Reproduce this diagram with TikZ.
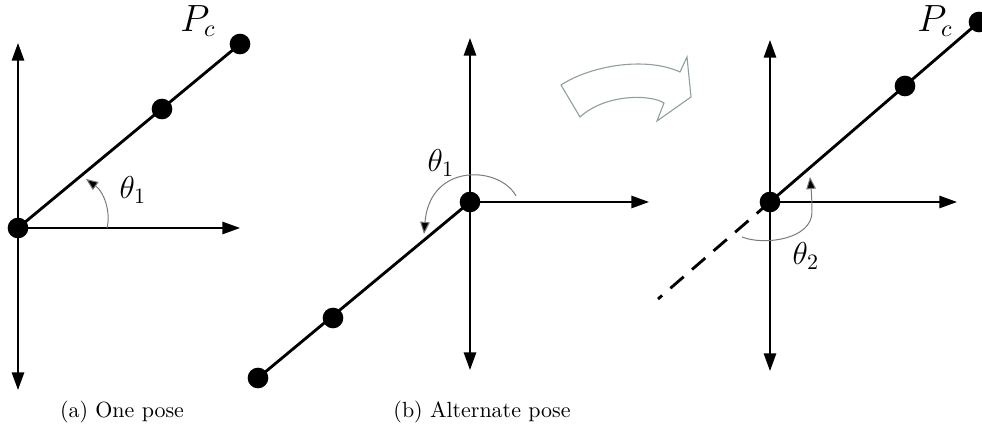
\documentclass[tikz,border=0pt]{standalone}
\usepackage{xcolor}
\usetikzlibrary{arrows.meta}
\definecolor{arcgray}{HTML}{7A7A7A}
\definecolor{turngreen}{HTML}{8FA09B}
\tikzset{
	axisline/.style={line width=0.8pt, {Triangle[length=8pt,width=5.6pt]}-{Triangle[length=8pt,width=5.6pt]}},
	axisray/.style={line width=0.8pt, -{Triangle[length=8pt,width=5.6pt]}},
	poseline/.style={line width=1.3pt},
	anglearc/.style={arcgray, line width=0.45pt, -{Triangle[length=5.5pt,width=4.4pt,fill=black]}},
	jointdot/.style={circle, fill=black, inner sep=0pt, minimum size=9.4pt},
	anglelabel/.style={font=\Large},
	pclabel/.style={font=\fontsize{16pt}{18pt}\selectfont},
}

\begin{document}
\begin{tikzpicture}[x=0.016cm,y=0.016cm]
	% Fixed white canvas, one unit is one pixel of the reference.
	\path[use as bounding box] (0,0) rectangle (982,434);
	\fill[white] (0,0) rectangle (982,434);

	% (a) One pose.
	\coordinate (aTop) at (18,391);
	\coordinate (aBot) at (18,44);
	\coordinate (aRight) at (240,206);
	\draw[axisline] (aBot) -- (aTop);
	\draw[axisray] (18,206) -- (aRight);
	\node[jointdot] (aOrigin) at (18,206) {};
	\node[jointdot] (aMid) at (162,325) {};
	\node[jointdot] (aEnd) at (240,390) {};
	\draw[poseline] (aOrigin.center) -- (aEnd.center);
	\node[pclabel] (aPc) at (198,413) {$P_c$};
	\draw[anglearc] (107,206) .. controls (111,222) and (104,242) .. (86,255);
	\node[anglelabel] (aTheta) at (133,244) {$\theta_1$};
	\node (aCaption) at (122,22) {(a) One pose};

	% (b) Alternate pose, left: the line turned to the lower left.
	\coordinate (bTop) at (470,396);
	\coordinate (bBot) at (470,64);
	\coordinate (bRight) at (649,232);
	\draw[axisline] (bBot) -- (bTop);
	\draw[axisray] (470,232) -- (bRight);
	\node[jointdot] (bOrigin) at (470,232) {};
	\node[jointdot] (bMid) at (333,116) {};
	\node[jointdot] (bEnd) at (258,56) {};
	\draw[poseline] (bOrigin.center) -- (bEnd.center);
	\draw[anglearc] (516,238) .. controls (500,268) and (430,272) .. (424,200);
	\node[anglelabel] (bTheta) at (441,271) {$\theta_1$};

	% Turn arrow between the two poses.
	\draw[turngreen, line width=0.5pt, fill=white, line join=miter]
		(561,349) .. controls (590,368) and (645,378) .. (680,362)
		-- (687,377) -- (691,337) -- (657,313) -- (664,331)
		.. controls (650,340) and (605,340) .. (580,317) -- cycle;

	% (b) Alternate pose, right: the same line read the other way round.
	\coordinate (cTop) at (770,394);
	\coordinate (cBot) at (770,63);
	\coordinate (cRight) at (957,232);
	\coordinate (cTail) at (658,135);
	\draw[axisline] (cBot) -- (cTop);
	\draw[axisray] (770,232) -- (cRight);
	\node[jointdot] (cOrigin) at (770,232) {};
	\node[jointdot] (cMid) at (905,348) {};
	\node[jointdot] (cEnd) at (979,412) {};
	\draw[poseline] (cOrigin.center) -- (cEnd.center);
	\draw[poseline, dash pattern=on 8pt off 5pt] (cOrigin.center) -- (cTail);
	\node[pclabel] (cPc) at (935,413) {$P_c$};
	\draw[anglearc] (742,197) .. controls (765,188) and (812,195) .. (812,222)
		.. controls (812,236) and (811,246) .. (810,257);
	\node[anglelabel] (cTheta) at (806,178) {$\theta_2$};
	\node (bCaption) at (482,22) {(b) Alternate pose};
\end{tikzpicture}
\end{document}
